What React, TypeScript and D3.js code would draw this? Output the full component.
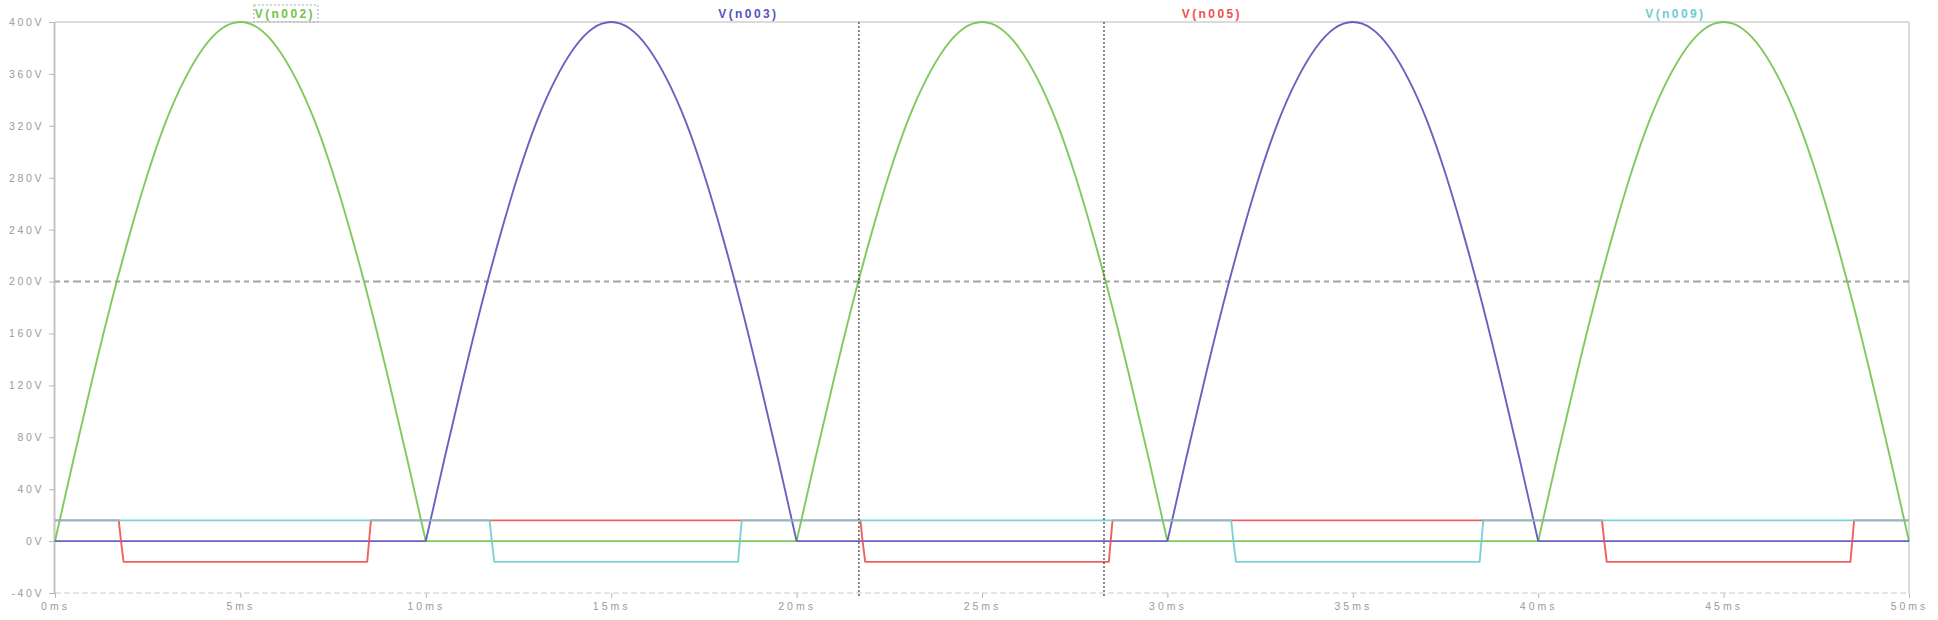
import { useRef, useEffect } from 'react'
import * as d3 from 'd3'

// sample time grid for the sine traces (ms)
const sampleMs = d3.range(0, 50.0001, 0.5)

// V(n002) read every 0.5 ms
const vN002 = [
  0, 63, 124, 182, 235, 283, 324, 356, 380, 395, 400, 395, 380, 356, 324, 283, 235, 182, 124, 63, 0,
  0, 0, 0, 0, 0, 0, 0, 0, 0, 0, 0, 0, 0, 0, 0, 0, 0, 0, 0,
  0, 63, 124, 182, 235, 283, 324, 356, 380, 395, 400, 395, 380, 356, 324, 283, 235, 182, 124, 63, 0,
  0, 0, 0, 0, 0, 0, 0, 0, 0, 0, 0, 0, 0, 0, 0, 0, 0, 0, 0,
  0, 63, 124, 182, 235, 283, 324, 356, 380, 395, 400, 395, 380, 356, 324, 283, 235, 182, 124, 63, 0,
]

// V(n003) read every 0.5 ms
const vN003 = [
  0, 0, 0, 0, 0, 0, 0, 0, 0, 0, 0, 0, 0, 0, 0, 0, 0, 0, 0, 0,
  0, 63, 124, 182, 235, 283, 324, 356, 380, 395, 400, 395, 380, 356, 324, 283, 235, 182, 124, 63, 0,
  0, 0, 0, 0, 0, 0, 0, 0, 0, 0, 0, 0, 0, 0, 0, 0, 0, 0, 0,
  0, 63, 124, 182, 235, 283, 324, 356, 380, 395, 400, 395, 380, 356, 324, 283, 235, 182, 124, 63, 0,
  0, 0, 0, 0, 0, 0, 0, 0, 0, 0, 0, 0, 0, 0, 0, 0, 0, 0, 0, 0,
]

// V(n005) gate-like square trace
const n005Ms = [0, 1.72, 1.78, 1.85, 8.42, 8.47, 8.52, 21.72, 21.78, 21.85, 28.42, 28.47, 28.52, 41.72, 41.78, 41.85, 48.42, 48.47, 48.52, 50]
const n005V = [16, 16, 0, -16, -16, 0, 16, 16, 0, -16, -16, 0, 16, 16, 0, -16, -16, 0, 16, 16]

// V(n009)
const n009Ms = [0, 11.72, 11.78, 11.85, 18.42, 18.47, 18.52, 31.72, 31.78, 31.85, 38.42, 38.47, 38.52, 50]
const n009V = [16, 16, 0, -16, -16, 0, 16, 16, 0, -16, -16, 0, 16, 16]

const yTicks = [-40, 0, 40, 80, 120, 160, 200, 240, 280, 320, 360, 400]
const xTicks = [0, 5, 10, 15, 20, 25, 30, 35, 40, 45, 50]

// cursors
const cursorMs = [21.68, 28.29]
const cursorV = 200

const traceNames = ['V(n002)', 'V(n003)', 'V(n005)', 'V(n009)']
const traceLabelMs = [6.2, 18.7, 31.2, 43.7]

// split a trace into flat-zero runs and humps so the humps can be smoothed
// without rounding the sharp corners at 0V
function splitRuns(pts) {
  const runs = []
  let cur = [pts[0]]
  let flat = pts[0][1] === 0 && pts[1] && pts[1][1] === 0
  for (let i = 1; i < pts.length; i++) {
    const p = pts[i]
    const segFlat = pts[i - 1][1] === 0 && p[1] === 0
    if (segFlat !== flat) {
      runs.push(cur)
      cur = [pts[i - 1]]
      flat = segFlat
    }
    cur.push(p)
  }
  runs.push(cur)
  return runs
}

export default function App() {
  const svgRef = useRef(null)

  useEffect(() => {
    if (!svgRef.current) return
    const svg = d3.select(svgRef.current)
    svg.selectAll('*').remove()

    const width = 1938
    const height = 620
    const margin = { top: 22, right: 29, bottom: 27, left: 55 }
    const innerW = width - margin.left - margin.right
    const innerH = height - margin.top - margin.bottom

    svg.attr('width', width).attr('height', height)
    svg.append('rect').attr('width', width).attr('height', height).style('fill', '#fff')

    const g = svg.append('g').attr('transform', `translate(${margin.left},${margin.top})`)

    const x = d3.scaleLinear().domain([0, 50]).range([0, innerW])
    const y = d3.scaleLinear().domain([-40, 400]).range([innerH, 0])

    const font = '"Liberation Sans", Arial, sans-serif'

    // frame
    g.append('line').attr('x1', 0).attr('x2', innerW).attr('y1', 0).attr('y2', 0)
      .style('stroke', '#cfcfcf').style('stroke-width', 1.5)
    g.append('line').attr('x1', 0).attr('x2', innerW).attr('y1', innerH).attr('y2', innerH)
      .style('stroke', '#dcdcdc').style('stroke-width', 1.5).style('stroke-dasharray', '6,3')
    g.append('line').attr('x1', -0.5).attr('x2', -0.5).attr('y1', 0).attr('y2', innerH)
      .style('stroke', '#c4c4c4').style('stroke-width', 2)
    g.append('line').attr('x1', innerW).attr('x2', innerW).attr('y1', 0).attr('y2', innerH)
      .style('stroke', '#cfcfcf').style('stroke-width', 1.5)

    // Y axis
    const yAxis = g.append('g')
      .call(d3.axisLeft(y).tickValues(yTicks).tickSize(6).tickPadding(5).tickFormat(d => `${d}V`))
    yAxis.select('.domain').remove()
    yAxis.selectAll('line').style('stroke', '#b8b8b8')
    yAxis.selectAll('text')
      .style('fill', '#9a9a9a')
      .style('font-size', '10.5px')
      .style('font-family', font)
      .style('letter-spacing', '2.6px')

    // X axis
    const xAxis = g.append('g')
      .attr('transform', `translate(0,${innerH})`)
      .call(d3.axisBottom(x).tickValues(xTicks).tickSize(5).tickPadding(5).tickFormat(d => `${d}ms`))
    xAxis.select('.domain').remove()
    xAxis.selectAll('line').style('stroke', '#b8b8b8')
    xAxis.selectAll('text')
      .style('fill', '#9a9a9a')
      .style('font-size', '10.5px')
      .style('font-family', font)
      .style('letter-spacing', '3px')

    // horizontal cursor
    g.append('line')
      .attr('x1', 0).attr('x2', innerW)
      .attr('y1', y(cursorV)).attr('y2', y(cursorV))
      .style('stroke', '#a4a4a4').style('stroke-width', 2)
      .style('stroke-dasharray', '5,4,5,4,8,4')

    const line = d3.line().x(d => x(d[0])).y(d => y(d[1]))
    const smooth = d3.line().x(d => x(d[0])).y(d => y(d[1])).curve(d3.curveNatural)

    const traces = [
      { pts: sampleMs.map((t, i) => [t, vN002[i]]), color: '#72c34a', curved: true },
      { pts: sampleMs.map((t, i) => [t, vN003[i]]), color: '#5752ba', curved: true },
      { pts: n005Ms.map((t, i) => [t, n005V[i]]), color: '#f04f4f', curved: false },
      { pts: n009Ms.map((t, i) => [t, n009V[i]]), color: '#6fcdd3', curved: false },
    ]

    const pathFor = d => d.curved
      ? splitRuns(d.pts).map(r => smooth(r)).join('')
      : line(d.pts)

    g.selectAll('.trace')
      .data(traces)
      .enter()
      .append('path')
      .attr('d', pathFor)
      .style('fill', 'none')
      .style('stroke', d => d.color)
      .style('stroke-width', 1.9)
      .style('stroke-linejoin', 'round')
      .style('opacity', 0.9)

    // vertical cursors
    g.selectAll('.cursor')
      .data(cursorMs)
      .enter()
      .append('line')
      .attr('x1', d => x(d)).attr('x2', d => x(d))
      .attr('y1', 0).attr('y2', innerH + 5)
      .style('stroke', '#4a4a4a').style('stroke-width', 1.3)
      .style('stroke-dasharray', '2,2')

    // trace labels above the plot
    svg.selectAll('.trace-label')
      .data(traceNames)
      .enter()
      .append('text')
      .attr('x', (d, i) => margin.left + x(traceLabelMs[i]))
      .attr('y', 18)
      .attr('text-anchor', 'middle')
      .style('fill', (d, i) => traces[i].color)
      .style('font-size', '12px')
      .style('font-weight', 'bold')
      .style('font-family', font)
      .style('letter-spacing', '2.4px')
      .text(d => d)

    // selection box around first label
    svg.append('rect')
      .attr('x', margin.left + x(traceLabelMs[0]) - 31)
      .attr('y', 5)
      .attr('width', 64)
      .attr('height', 17)
      .style('fill', 'none')
      .style('stroke', '#aaa')
      .style('stroke-dasharray', '2,2')
  }, [])

  return (
    <div style={{ position: 'absolute', left: 0, top: 0 }}>
      <svg ref={svgRef} style={{ display: 'block' }} />
    </div>
  )
}
